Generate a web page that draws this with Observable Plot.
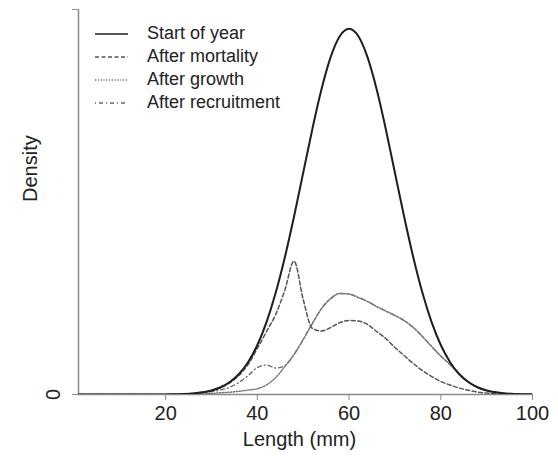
<!DOCTYPE html>
<html><head><meta charset="utf-8">
<script src="https://cdn.jsdelivr.net/npm/d3@7"></script>
<script src="https://cdn.jsdelivr.net/npm/@observablehq/plot@0.6"></script>
<style>
body{margin:0;background:#fff;}
#wrap{position:relative;width:558px;height:457px;font-family:"Liberation Sans",Arial,Helvetica,sans-serif;}
#legend{position:absolute;left:95px;top:22px;font-size:18px;color:#222;line-height:23px;}
#legend .row{display:flex;align-items:center;height:23px;}
#legend svg{margin-right:19px;}
</style></head><body><div id="wrap"></div>
<script>
// Length (mm) sample points
const lengths = [0,2,4,6,8,10,12,14,16,18,20,22,24,26,28,30,32,34,36,38,40,42,44,46,48,50,52,54,56,58,60,62,64,66,68,70,72,74,76,78,80,82,84,86,88,90,92,94,96,98,100];
const startOfYear = [0,0,0,0,0,0,0,0,0,0,
  0.000013,0.000029,0.000061,0.000123,0.000239,0.000443,0.000792,0.001358,0.002239,0.003547,
  0.005399,0.007895,0.011092,0.014973,0.019419,0.024197,0.028969,0.033322,0.036827,0.039104,
  0.039894,0.039104,0.036827,0.033322,0.028969,0.024197,0.019419,0.014973,0.011092,0.007895,
  0.005399,0.003547,0.002239,0.001358,0.000792,0.000443,0.000239,0.000123,0.000061,0.000029,0.000013];
const afterMortality = [0,0,0,0,0,0,0,0,0,0,
  0.00001,0.00003,0.00006,0.00012,0.00023,0.00042,0.00075,0.00128,0.00210,0.00330,
  0.00502,0.00687,0.00873,0.01140,0.01455,0.01036,0.00720,0.00693,0.00731,0.00785,
  0.00807,0.00802,0.00764,0.00687,0.00611,0.00513,0.00425,0.00338,0.00262,0.00196,
  0.00142,0.00104,0.00071,0.00046,0.00027,0.00016,0.00009,0.00004,0.00002,0.00001,0];
const afterGrowth = [0,0,0,0,0,0,0,0,0,0,0,0,
  0.00002,0.00004,0.00008,0.00012,0.00019,0.00025,0.00035,0.00048,
  0.00063,0.00104,0.00185,0.00305,0.00436,0.00600,0.00775,0.00938,0.01047,0.01102,
  0.01096,0.01058,0.01015,0.00960,0.00911,0.00862,0.00807,0.00731,0.00633,0.00524,
  0.00420,0.00327,0.00224,0.00136,0.00079,0.00044,0.00024,0.00012,0.00006,0.00003,0.00001];
const afterRecruitment = [0,0,0,0,0,0,0,0,0,0,0,0,0,
  0.00009,0.00016,0.00031,0.00050,0.00080,0.00131,0.00207,
  0.00295,0.00322,0.00289,0.00316,0.00436,0.00600,0.00775,0.00938,0.01047,0.01102,
  0.01096,0.01058,0.01015,0.00960,0.00911,0.00862,0.00807,0.00731,0.00633,0.00524,
  0.00420,0.00327,0.00224,0.00136,0.00079,0.00044,0.00024,0.00012,0.00006,0.00003,0.00001];
const seriesNames = ["Start of year","After mortality","After growth","After recruitment"];
const xTicks = [20,40,60,80,100];
const yTicks = [0,0.042];
const xDomain = [1,100];
const yDomain = [0,0.042];

const seriesValues = [startOfYear, afterMortality, afterGrowth, afterRecruitment];
const styles = [
  {stroke:"#1e1e1e", strokeWidth:2, dash:null},
  {stroke:"#555", strokeWidth:1.5, dash:"4,2.5"},
  {stroke:"#777", strokeWidth:1.5, dash:"1.2,1.6"},
  {stroke:"#666", strokeWidth:1.3, dash:"1,3,4,3"}
];
const rows = seriesNames.map((name,i)=>lengths.map((x,j)=>({series:name,x,y:seriesValues[i][j]})));

const lineMarks = [3,2,1,0].map(i => Plot.line(rows[i], {
  x:"x", y:"y", curve:"monotone-x", clip:true,
  stroke:styles[i].stroke, strokeWidth:styles[i].strokeWidth,
  strokeDasharray: styles[i].dash || undefined
}));

const chart = Plot.plot({
  width:558, height:457,
  marginLeft:78, marginRight:26, marginTop:9, marginBottom:63,
  style:{fontFamily:'"Liberation Sans",Arial,Helvetica,sans-serif', fontSize:"20px", color:"#222", background:"#fff"},
  x:{domain:xDomain},
  y:{domain:yDomain},
  marks:[
    Plot.ruleX([xDomain[0]], {stroke:"#8a8a8a", strokeWidth:1.5}),
    Plot.ruleY([0], {stroke:"#8a8a8a", strokeWidth:1.5}),
    ...lineMarks,
    Plot.axisX(xTicks, {tickSize:6, tickPadding:5, stroke:"#8a8a8a", fill:"#222", fontSize:20, label:null}),
    Plot.axisY(yTicks, {tickSize:6, tickPadding:13, stroke:"#8a8a8a", fill:"#222", fontSize:20, label:null,
      tickFormat: d => d === 0 ? "0" : "", tickRotate:-90}),
    Plot.text(["Length (mm)"], {frameAnchor:"bottom", dy:51, dx:-6, fontSize:20, fill:"#222"}),
    Plot.text(["Density"], {frameAnchor:"left", rotate:-90, dx:-48, fontSize:20, fill:"#222"})
  ]
});
const wrap = document.getElementById("wrap");
wrap.appendChild(chart);

// legend
const legend = document.createElement("div");
legend.id = "legend";
seriesNames.forEach((name,i)=>{
  const row = document.createElement("div");
  row.className = "row";
  const s = d3.create("svg").attr("width",33).attr("height",10);
  s.append("line").attr("x1",0).attr("x2",33).attr("y1",5).attr("y2",5)
    .attr("stroke", styles[i].stroke).attr("stroke-width", i===0?1.5:1.3)
    .attr("stroke-dasharray", styles[i].dash);
  row.appendChild(s.node());
  const t = document.createElement("span");
  t.textContent = name;
  row.appendChild(t);
  legend.appendChild(row);
});
wrap.appendChild(legend);
</script>
</body></html>
